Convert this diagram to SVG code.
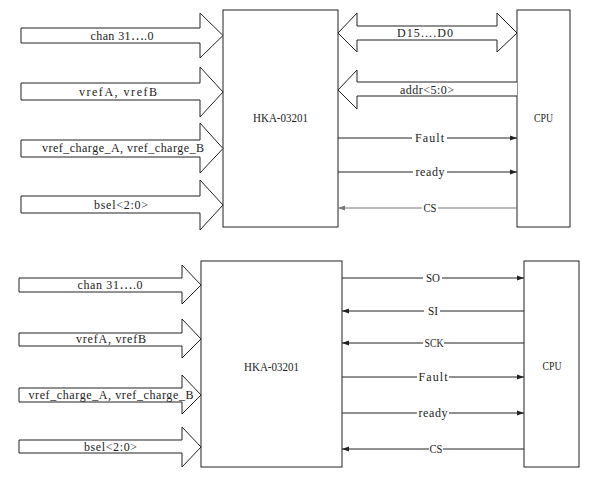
<svg xmlns="http://www.w3.org/2000/svg" width="598" height="479" viewBox="0 0 598 479">
<defs>
<style>
.box{fill:#fff;stroke:#222;stroke-width:1}
.bus{fill:#fff;stroke:#222;stroke-width:1;stroke-linejoin:miter}
.sig{stroke:#222;stroke-width:1;fill:none}
.gray{stroke:#777}
text{font-family:"Liberation Serif","Noto Sans CJK SC",serif;font-size:12px;fill:#222;text-anchor:middle}
</style>
<marker id="ar" markerWidth="7" markerHeight="6" refX="7" refY="3" orient="auto" markerUnits="userSpaceOnUse">
<path d="M0,0.5 L7,3 L0,5.5 Z" fill="#222"/>
</marker>
<marker id="arg" markerWidth="7" markerHeight="6" refX="7" refY="3" orient="auto" markerUnits="userSpaceOnUse">
<path d="M0,0.5 L7,3 L0,5.5 Z" fill="#777"/>
</marker>
</defs>
<rect width="598" height="479" fill="#fff"/>

<!-- TOP DIAGRAM -->
<g id="top-hka"><rect class="box" x="223" y="10" width="115" height="217"/><text x="280.5" y="122" textLength="55" lengthAdjust="spacingAndGlyphs">HKA-03201</text></g>
<g id="top-cpu"><rect class="box" x="517" y="10" width="53" height="217"/><text x="543.5" y="122" textLength="19" lengthAdjust="spacingAndGlyphs">CPU</text></g>

<g id="top-connectors">
<g id="top-chan"><path class="bus" d="M21,28 H200 V13 L223,35.5 L200,58 V43 H21 Z"/><text x="122" y="40" textLength="63" lengthAdjust="spacing">chan 31⋯.0</text></g>
<g id="top-vref"><path class="bus" d="M21,83 H200 V67 L223,92 L200,117 V100 H21 Z"/><text x="118" y="96" textLength="78" lengthAdjust="spacing">vrefA, vrefB</text></g>
<g id="top-vrefc"><path class="bus" d="M21,140 H200 V123 L223,148.5 L200,173 V157 H21 Z"/><text x="123" y="152" textLength="162" lengthAdjust="spacing">vref_charge_A, vref_charge_B</text></g>
<g id="top-bsel"><path class="bus" d="M21,196 H200 V180 L223,205 L200,230 V213 H21 Z"/><text x="121" y="209" textLength="54" lengthAdjust="spacing">bsel&lt;2:0&gt;</text></g>

<g id="top-data"><path class="bus" d="M338,33 L357,13 V26 H497 V13 L517,33 L497,52 V40 H357 V52 Z"/><text x="425" y="37" textLength="56" lengthAdjust="spacing">D15....D0</text></g>
<g id="top-addr"><path class="bus" d="M517,82 H357 V70 L338,90 L357,109 V96 H517"/><text x="427" y="94" textLength="54" lengthAdjust="spacing">addr&lt;5:0&gt;</text></g>

<g id="top-fault"><line class="sig" x1="338" y1="138" x2="412" y2="138"/><line class="sig" x1="447" y1="138" x2="517" y2="138" marker-end="url(#ar)"/><text x="429.5" y="142" textLength="29" lengthAdjust="spacing">Fault</text></g>
<g id="top-ready"><line class="sig" x1="338" y1="172" x2="413" y2="172"/><line class="sig" x1="447" y1="172" x2="517" y2="172" marker-end="url(#ar)"/><text x="430" y="176" textLength="29" lengthAdjust="spacing">ready</text></g>
<g id="top-cs"><line class="sig gray" x1="517" y1="208" x2="438" y2="208"/><line class="sig gray" x1="422" y1="208" x2="338" y2="208" marker-end="url(#arg)"/><text x="430" y="212" textLength="13" lengthAdjust="spacingAndGlyphs">CS</text></g>
</g>

<!-- BOTTOM DIAGRAM -->
<g id="bot-hka"><rect class="box" x="201" y="261" width="141" height="206"/><text x="271.5" y="371" textLength="55" lengthAdjust="spacingAndGlyphs">HKA-03201</text></g>
<g id="bot-cpu"><rect class="box" x="524" y="261" width="55" height="206"/><text x="552" y="370" textLength="19" lengthAdjust="spacingAndGlyphs">CPU</text></g>

<g id="bot-connectors">
<g id="bot-chan"><path class="bus" d="M19,278 H182 V265 L201,285 L182,304 V292 H19 Z"/><text x="110" y="289" textLength="65" lengthAdjust="spacing">chan 31⋯.0</text></g>
<g id="bot-vref"><path class="bus" d="M19,333 H182 V319 L201,339 L182,358 V346 H19 Z"/><text x="111" y="343" textLength="70" lengthAdjust="spacing">vrefA, vrefB</text></g>
<g id="bot-vrefc"><path class="bus" d="M19,388 H182 V375 L201,395 L182,414 V402 H19 Z"/><text x="111" y="399" textLength="165" lengthAdjust="spacing">vref_charge_A, vref_charge_B</text></g>
<g id="bot-bsel"><path class="bus" d="M19,440 H182 V427 L201,447 L182,467 V453 H19 Z"/><text x="110.5" y="451" textLength="53" lengthAdjust="spacing">bsel&lt;2:0&gt;</text></g>

<g id="bot-so"><line class="sig" x1="342" y1="278" x2="423" y2="278"/><line class="sig" x1="442" y1="278" x2="524" y2="278" marker-end="url(#ar)"/><text x="433" y="282" textLength="14" lengthAdjust="spacingAndGlyphs">SO</text></g>
<g id="bot-si"><line class="sig" x1="524" y1="311" x2="440" y2="311"/><line class="sig" x1="424" y1="311" x2="342" y2="311" marker-end="url(#ar)"/><text x="433" y="315" textLength="10" lengthAdjust="spacingAndGlyphs">SI</text></g>
<g id="bot-sck"><line class="sig" x1="524" y1="343" x2="444" y2="343"/><line class="sig" x1="423" y1="343" x2="342" y2="343" marker-end="url(#ar)"/><text x="434" y="347" textLength="19" lengthAdjust="spacingAndGlyphs">SCK</text></g>
<g id="bot-fault"><line class="sig" x1="342" y1="377" x2="417" y2="377"/><line class="sig" x1="449" y1="377" x2="524" y2="377" marker-end="url(#ar)"/><text x="433" y="381" textLength="29" lengthAdjust="spacing">Fault</text></g>
<g id="bot-ready"><line class="sig" x1="342" y1="413" x2="417" y2="413"/><line class="sig" x1="449" y1="413" x2="524" y2="413" marker-end="url(#ar)"/><text x="433" y="417" textLength="29" lengthAdjust="spacing">ready</text></g>
<g id="bot-cs"><line class="sig" x1="524" y1="449" x2="443" y2="449"/><line class="sig" x1="429" y1="449" x2="342" y2="449" marker-end="url(#ar)"/><text x="436" y="453" textLength="13" lengthAdjust="spacingAndGlyphs">CS</text></g>
</g>
</svg>
